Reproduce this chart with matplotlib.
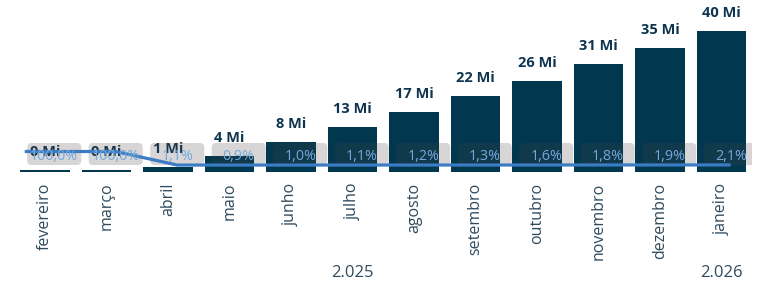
import matplotlib
matplotlib.use('Agg')
import matplotlib.pyplot as plt
from matplotlib.patches import FancyBboxPatch

# dados
meses = ['fevereiro', 'março', 'abril', 'maio', 'junho', 'julho', 'agosto',
         'setembro', 'outubro', 'novembro', 'dezembro', 'janeiro']
valores = [0.4, 0.4, 1.3, 4.3, 8.3, 12.7, 17.0, 21.6, 25.9, 30.6, 35.1, 40.1]  # milhões
percentuais = [100.0, 100.0, 1.1, 0.9, 1.0, 1.1, 1.2, 1.3, 1.6, 1.8, 1.9, 2.1]
anos = ['2.025', '2.026']
pos_anos = [5, 11]

plt.rcParams['font.family'] = ['Open Sans', 'DejaVu Sans']

cor_barra = '#01374f'
cor_linha = '#3b7cc4'
cor_pct = '#74a8dc'
cor_texto = '#2f4a5d'

W, H = 760, 289
fig = plt.figure(figsize=(W / 100, H / 100), dpi=100)
ax = fig.add_axes([14.25 / W, (H - 171.5) / H, 738 / W, 151.5 / H])

x = list(range(len(meses)))
ax.bar(x, valores, width=0.8, color=cor_barra, zorder=2)
ax.set_xlim(-0.5, len(meses) - 0.5)
ymax = 43.2
ax.set_ylim(0, ymax)

# rótulos de valor
for xi, v in zip(x, valores):
    ax.annotate(f'{round(v)} Mi', xy=(xi, v), xytext=(0, 13), textcoords='offset points',
                ha='center', va='center', fontsize=10.5, fontweight='bold',
                color='#0e3550', zorder=3)

# caixas cinzas dos percentuais
desl = 0.15
px_x = 1 / 61.5
px_y = ymax / 151.5
for xi in x:
    b = FancyBboxPatch((xi + desl - 0.44, (171.5 - 165) * px_y), 0.88, 22 * px_y,
                       boxstyle='round,pad=0,rounding_size=0.07',
                       mutation_aspect=px_y / px_x,
                       fc=(0.30, 0.26, 0.26), alpha=0.22, ec='none', zorder=4)
    ax.add_patch(b)

ax2 = ax.twinx()
ax2.set_ylim(-46, 1060)
xl = [xi + desl for xi in x]
xl[0] = -0.33  # a linha começa antes da primeira barra, como no original
ax2.plot(xl, percentuais, color=cor_linha, lw=2.3, zorder=5, solid_capstyle='butt')
for xi, p in zip(x, percentuais):
    ax2.annotate(f'{p:.1f}%'.replace('.', ','), xy=(xi + desl, 0), xycoords=('data', 'axes fraction'),
                 xytext=(0, 11), textcoords='offset points', ha='center', va='center',
                 fontsize=10.3, color=cor_pct, zorder=6)

for a in (ax, ax2):
    for s in a.spines.values():
        s.set_visible(False)
    a.set_yticks([])

ax.set_xticks(x)
ax.set_xticklabels(meses, rotation=90, fontsize=11.5, color=cor_texto, va='top')
ax.tick_params(axis='x', length=0, pad=8)

for ano, pa in zip(anos, pos_anos):
    ax.annotate(ano, xy=(pa, 0), xycoords=('data', 'axes fraction'), xytext=(0, -73),
                textcoords='offset points', ha='center', va='center', fontsize=12,
                color=cor_texto)

fig.savefig('out.png', dpi=100)
